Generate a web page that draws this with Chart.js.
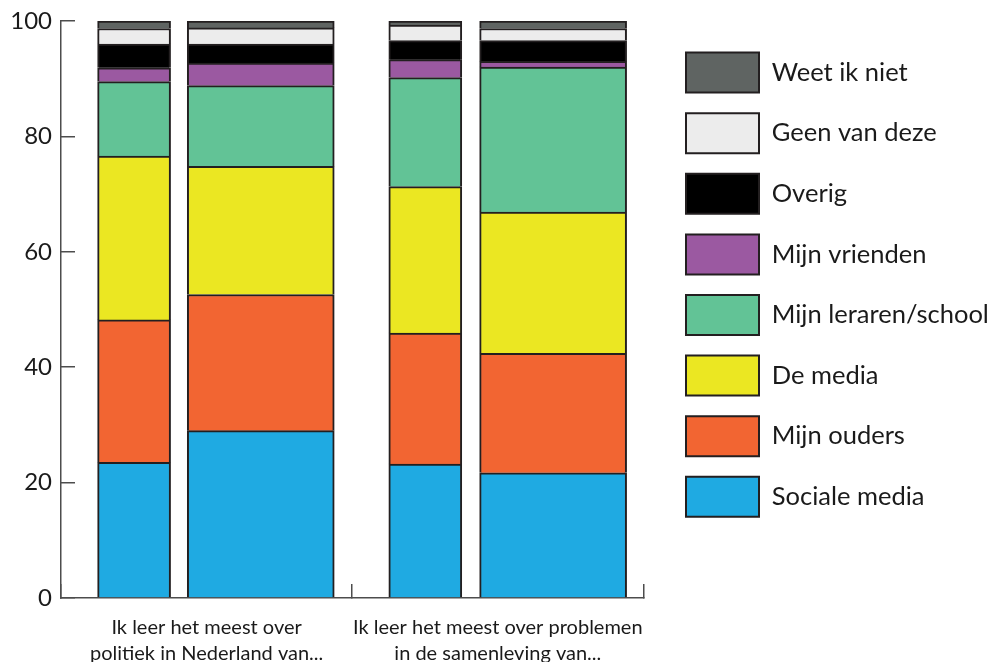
<!DOCTYPE html>
<html>
<head>
<meta charset="utf-8">
<script src="https://cdn.jsdelivr.net/npm/chart.js@4"></script>
<style>
  html, body { margin: 0; padding: 0; background: #fff; }
  #wrap { width: 990px; height: 662px; }
</style>
</head>
<body>
<div id="wrap"><canvas id="chart"></canvas></div>
<script>
// groepen op de x-as
const groupLabels = [
  ['Ik leer het meest over', 'politiek in Nederland van...'],
  ['Ik leer het meest over problemen', 'in de samenleving van...']
];

// volgorde van de balken: politiek (smal), politiek (breed), samenleving (smal), samenleving (breed)
const sources = ['Sociale media', 'Mijn ouders', 'De media', 'Mijn leraren/school',
                 'Mijn vrienden', 'Overig', 'Geen van deze', 'Weet ik niet'];
const socialeMedia = [23.5, 29.0, 23.2, 21.7];
const mijnOuders   = [24.7, 23.6, 22.7, 20.7];
const deMedia      = [28.4, 22.2, 25.4, 24.5];
const leraren      = [12.9, 14.0, 18.9, 25.1];
const vrienden     = [2.4, 3.9, 3.1, 1.0];
const overig       = [4.1, 3.3, 3.3, 3.6];
const geenVanDeze  = [2.7, 2.8, 2.7, 2.1];
const weetIkNiet   = [1.3, 1.2, 0.7, 1.3];

const series = [socialeMedia, mijnOuders, deMedia, leraren, vrienden, overig, geenVanDeze, weetIkNiet];
const colors = ['#1faae2', '#f26532', '#ebe722', '#62c396', '#9b59a1', '#000000', '#ececec', '#5f6462'];

// plek van elke balk op de verborgen x-as (in groepen) en breedte in px
const barCenter = [0.251, 0.686, 1.251, 1.69];
const barThick = [73, 147, 73, 147];

const axisColor = '#4d4d4d';
const textColor = '#1a1a1a';

const datasets = [];
[[0, 2], [1, 3]].forEach(idx => {
  series.forEach((vals, s) => {
    datasets.push({
      label: sources[s],
      data: idx.map(i => ({ x: barCenter[i], y: vals[i] })),
      backgroundColor: colors[s],
      borderColor: '#231f20',
      borderWidth: 2,
      barThickness: barThick[idx[0]],
      xAxisID: 'xb',
      yAxisID: 'y'
    });
  });
});

Chart.defaults.font.family = 'Lato';

new Chart(document.getElementById('chart'), {
  type: 'bar',
  data: { labels: groupLabels, datasets },
  options: {
    responsive: true,
    maintainAspectRatio: false,
    animation: false,
    layout: { padding: { top: 7, right: 0, bottom: 0, left: 0 } },
    plugins: {
      tooltip: { enabled: false },
      legend: {
        position: 'right',
        align: 'start',
        reverse: true,
        maxWidth: 324.6,
        title: { display: true, text: '', font: { size: 20, lineHeight: 1.25 }, padding: 0 },
        labels: {
          boxWidth: 73,
          boxHeight: 40,
          padding: 20.6,
          color: textColor,
          font: { size: 25.5 },
          filter: item => item.datasetIndex < 8
        }
      }
    },
    scales: {
      x: {
        type: 'category',
        position: 'bottom',
        offset: true,
        grid: { offset: true, drawOnChartArea: false, drawTicks: true, tickLength: -14, color: axisColor, lineWidth: 1.5 },
        border: { display: true, color: axisColor, width: 1.5 },
        ticks: { color: textColor, font: { size: 20, lineHeight: 1.3 }, padding: 31, maxRotation: 0, autoSkip: false },
        afterFit: s => { s.height = 64; }
      },
      xb: {
        type: 'linear',
        display: false,
        min: 0,
        max: 2,
        offset: false,
        stacked: true
      },
      gap: {
        type: 'linear',
        position: 'right',
        display: true,
        grid: { display: false },
        border: { display: false },
        ticks: { display: false },
        afterFit: s => { s.width = 22; }
      },
      y: {
        stacked: true,
        min: 0,
        max: 100,
        ticks: { stepSize: 20, color: textColor, font: { size: 24 }, padding: 23 },
        grid: { drawOnChartArea: false, drawTicks: true, tickLength: -14, color: axisColor, lineWidth: 1.5 },
        border: { display: true, color: axisColor, width: 1.5 },
        afterFit: s => { s.width = 61; s.paddingTop = 21; s.paddingBottom = 0; }
      }
    }
  }
});
</script>
</body>
</html>
